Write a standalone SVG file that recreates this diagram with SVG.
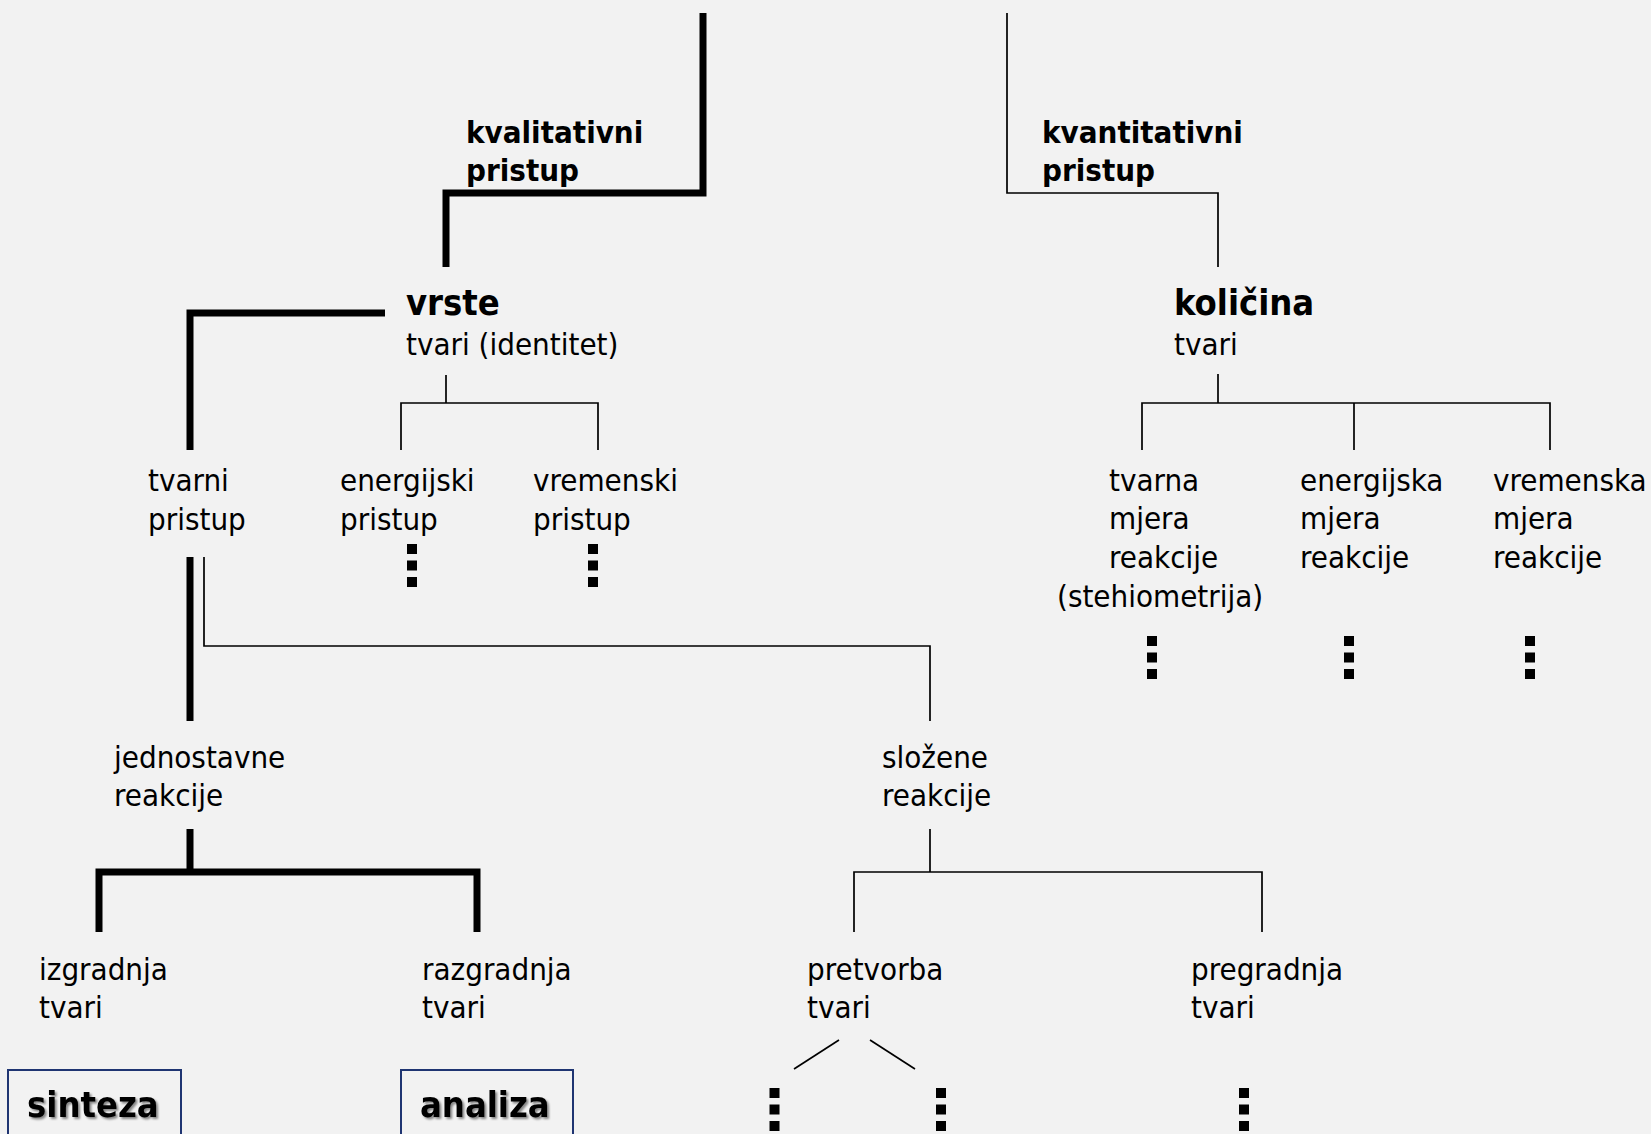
<svg xmlns="http://www.w3.org/2000/svg" width="1651" height="1134" viewBox="0 0 1651 1134">
<defs>
<style>
.t{font-family:"DejaVu Sans Condensed","DejaVu Sans",sans-serif;font-stretch:condensed;font-size:31px;fill:#000}
.b{font-weight:bold}
.big{font-size:36px;font-weight:bold}
.thick{stroke:#000;stroke-width:7;fill:none;stroke-linejoin:miter}
.thin{stroke:#000;stroke-width:1.7;fill:none}
.dots{stroke:#000;stroke-width:10;stroke-dasharray:10 6.5;fill:none}
.box{fill:none;stroke:#1f3572;stroke-width:2}
</style>
<filter id="sh" x="-10%" y="-20%" width="130%" height="150%">
<feDropShadow dx="2" dy="2" stdDeviation="1.2" flood-color="#000" flood-opacity="0.45"/>
</filter>
</defs>
<rect width="1651" height="1134" fill="#f2f2f2"/>
<g id="connectors">
<path class="thick" d="M703,13 V193 H446 V267"/>
<path class="thick" d="M385,313 H190 V450"/>
<path class="thick" d="M190,557 V721"/>
<path class="thick" d="M190,829 V872"/>
<path class="thick" d="M99,932 V872 H477 V932"/>
<path class="thin" d="M1007,13 V193 H1218 V267"/>
<path class="thin" d="M1218,374 V403"/>
<path class="thin" d="M1142,450 V403 H1550 V450"/>
<path class="thin" d="M1354,403 V450"/>
<path class="thin" d="M446,375 V403"/>
<path class="thin" d="M401,450 V403 H598 V450"/>
<path class="thin" d="M204,557 V646 H930 V721"/>
<path class="thin" d="M930,829 V872"/>
<path class="thin" d="M854,932 V872 H1262 V932"/>
<path class="thin" d="M839,1040 L794,1069"/>
<path class="thin" d="M870,1040 L915,1069"/>
</g>
<g id="kvalitativni">
<text class="t b" x="466" y="143">kvalitativni</text>
<text class="t b" x="466" y="181">pristup</text>
</g>
<g id="kvantitativni">
<text class="t b" x="1042" y="143">kvantitativni</text>
<text class="t b" x="1042" y="181">pristup</text>
</g>
<g id="vrste">
<text class="t big" x="406" y="315">vrste</text>
<text class="t" x="406" y="355">tvari (identitet)</text>
</g>
<g id="kolicina">
<text class="t big" x="1174" y="315">količina</text>
<text class="t" x="1174" y="355">tvari</text>
</g>
<g id="tvarni">
<text class="t" x="148" y="491">tvarni</text>
<text class="t" x="148" y="530">pristup</text>
</g>
<g id="energijski">
<text class="t" x="340" y="491">energijski</text>
<text class="t" x="340" y="530">pristup</text>
<path class="dots" d="M412,544 V588"/>
</g>
<g id="vremenski">
<text class="t" x="533" y="491">vremenski</text>
<text class="t" x="533" y="530">pristup</text>
<path class="dots" d="M593,544 V588"/>
</g>
<g id="tvarna">
<text class="t" x="1109" y="491">tvarna</text>
<text class="t" x="1109" y="529">mjera</text>
<text class="t" x="1109" y="568">reakcije</text>
<text class="t" x="1057" y="607">(stehiometrija)</text>
<path class="dots" d="M1152,636 V679"/>
</g>
<g id="energijska">
<text class="t" x="1300" y="491">energijska</text>
<text class="t" x="1300" y="529">mjera</text>
<text class="t" x="1300" y="568">reakcije</text>
<path class="dots" d="M1349,636 V679"/>
</g>
<g id="vremenska">
<text class="t" x="1493" y="491">vremenska</text>
<text class="t" x="1493" y="529">mjera</text>
<text class="t" x="1493" y="568">reakcije</text>
<path class="dots" d="M1530,636 V679"/>
</g>
<g id="jednostavne">
<text class="t" x="114" y="768">jednostavne</text>
<text class="t" x="114" y="806">reakcije</text>
</g>
<g id="slozene">
<text class="t" x="882" y="768">složene</text>
<text class="t" x="882" y="806">reakcije</text>
</g>
<g id="izgradnja">
<text class="t" x="39" y="980">izgradnja</text>
<text class="t" x="39" y="1018">tvari</text>
</g>
<g id="razgradnja">
<text class="t" x="422" y="980">razgradnja</text>
<text class="t" x="422" y="1018">tvari</text>
</g>
<g id="pretvorba">
<text class="t" x="807" y="980">pretvorba</text>
<text class="t" x="807" y="1018">tvari</text>
<path class="dots" d="M774.5,1088 V1140"/>
<path class="dots" d="M941,1088 V1140"/>
</g>
<g id="pregradnja">
<text class="t" x="1191" y="980">pregradnja</text>
<text class="t" x="1191" y="1018">tvari</text>
<path class="dots" d="M1244,1088 V1140"/>
</g>
<g id="sinteza">
<rect class="box" x="8" y="1070" width="173" height="70"/>
<text class="t big" x="27" y="1117" filter="url(#sh)">sinteza</text>
</g>
<g id="analiza">
<rect class="box" x="401" y="1070" width="172" height="70"/>
<text class="t big" x="420" y="1117" filter="url(#sh)">analiza</text>
</g>
</svg>
